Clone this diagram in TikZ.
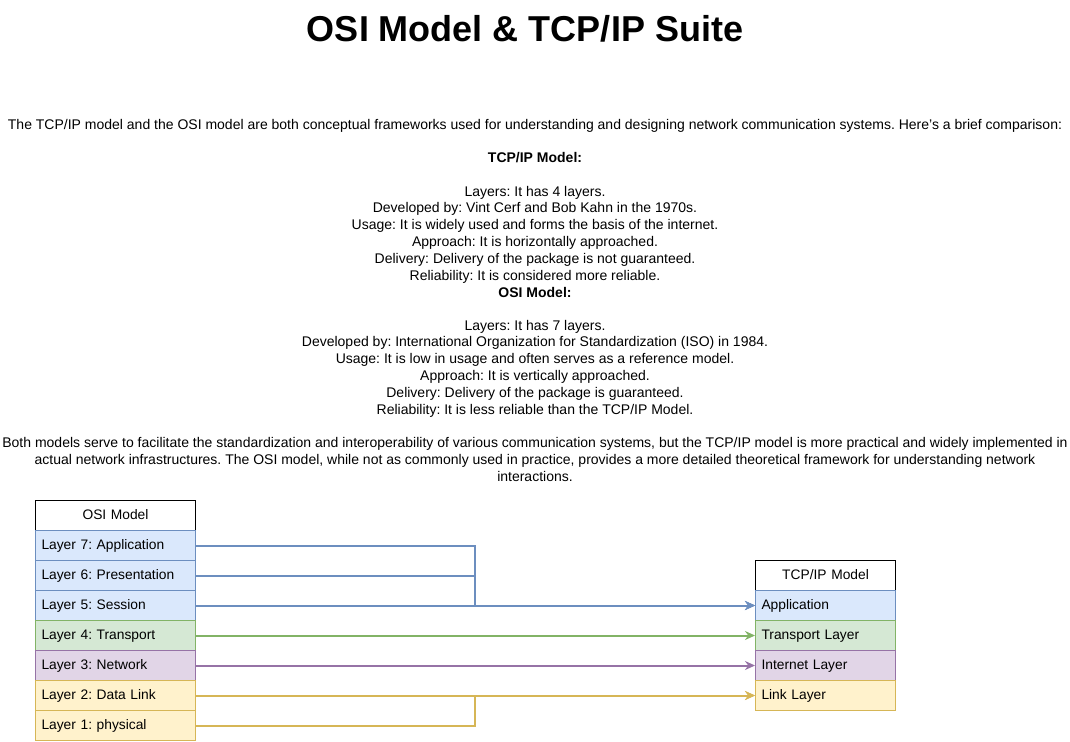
\documentclass[tikz,border=0pt]{standalone}
\usepackage{fontspec}
\setmainfont{Liberation Sans}
\frenchspacing
\usetikzlibrary{arrows.meta}
\definecolor{blufill}{HTML}{DAE8FC}\definecolor{bluline}{HTML}{6C8EBF}
\definecolor{grnfill}{HTML}{D5E8D4}\definecolor{grnline}{HTML}{82B366}
\definecolor{purfill}{HTML}{E1D5E7}\definecolor{purline}{HTML}{9673A6}
\definecolor{yelfill}{HTML}{FFF2CC}\definecolor{yelline}{HTML}{D6B656}
\tikzset{
  body/.style={font=\fontsize{14}{16.8}\selectfont, align=center, inner sep=0pt, anchor=base},
  layer/.style={draw=#1line, fill=#1fill, line width=1pt, minimum height=30pt, inner xsep=6pt, inner ysep=0pt,
    text width=148pt, text height=10pt, text depth=3pt, align=left, anchor=north west, font=\fontsize{13.8}{16}\selectfont},
  head/.style={layer=white, draw=black, align=center},
  link/.style={draw=#1line, line width=2pt, -{Stealth[length=10pt,width=9pt]}}
}
\colorlet{whitefill}{white}\colorlet{whiteline}{black}
\begin{document}
\begin{tikzpicture}[x=1pt, y=-1pt]
\useasboundingbox (0,0) rectangle (1070,741);
\node[font=\bfseries\fontsize{36}{40}\selectfont, inner sep=0pt, anchor=base] (title) at (525,42) {OSI Model \& TCP/IP Suite};
\node[body] (intro) at (535,129) {The TCP/IP model and the OSI model are both conceptual frameworks used for understanding and designing network communication systems. Here’s a brief comparison:};
\node[body, font=\bfseries\fontsize{14}{16.8}\selectfont] (tcphead) at (535,162) {TCP/IP Model:};
% multi-line nodes sit on the baseline of their last line
\node[body] (tcpbody) at (535,280) {Layers: It has 4 layers.\\
  Developed by: Vint Cerf and Bob Kahn in the 1970s.\\
  Usage: It is widely used and forms the basis of the internet.\\
  Approach: It is horizontally approached.\\
  Delivery: Delivery of the package is not guaranteed.\\
  Reliability: It is considered more reliable.};
\node[body, font=\bfseries\fontsize{14}{16.8}\selectfont] (osihead) at (535,297) {OSI Model:};
\node[body] (osibody) at (535,414) {Layers: It has 7 layers.\\
  Developed by: International Organization for Standardization (ISO) in 1984.\\
  Usage: It is low in usage and often serves as a reference model.\\
  Approach: It is vertically approached.\\
  Delivery: Delivery of the package is guaranteed.\\
  Reliability: It is less reliable than the TCP/IP Model.};
\node[body] (summary) at (535,481) {Both models serve to facilitate the standardization and interoperability of various communication systems, but the TCP/IP model is more practical and widely implemented in\\
  actual network infrastructures. The OSI model, while not as commonly used in practice, provides a more detailed theoretical framework for understanding network\\
  interactions.};
% OSI stack
\node[head] (osi) at (35,500) {OSI Model};
\foreach \n/\t/\c [count=\i] in {7/Application/blu, 6/Presentation/blu, 5/Session/blu, 4/Transport/grn,
    3/Network/pur, 2/Data Link/yel, 1/physical/yel}
  \node[layer=\c] (osi\n) at (35,500+30*\i) {Layer \n: \t};
% TCP/IP stack
\node[head, text width=128pt] (tcp) at (755,560) {TCP/IP Model};
\node[layer=blu, text width=128pt] (tcpapp) at (755,590) {Application};
\node[layer=grn, text width=128pt] (tcptrans) at (755,620) {Transport Layer};
\node[layer=pur, text width=128pt] (tcpnet) at (755,650) {Internet Layer};
\node[layer=yel, text width=128pt] (tcplink) at (755,680) {Link Layer};
% connectors
\coordinate (split) at (475,0);
\draw[link=blu] (osi7.east) -- (osi7.east -| split) |- (tcpapp.west);
\draw[link=blu] (osi6.east) -- (osi6.east -| split) |- (tcpapp.west);
\draw[link=blu] (osi5.east) -- (tcpapp.west);
\draw[link=grn] (osi4.east) -- (tcptrans.west);
\draw[link=pur] (osi3.east) -- (tcpnet.west);
\draw[link=yel] (osi2.east) -- (tcplink.west);
\draw[link=yel] (osi1.east) -- (osi1.east -| split) |- (tcplink.west);
\end{tikzpicture}
\end{document}
